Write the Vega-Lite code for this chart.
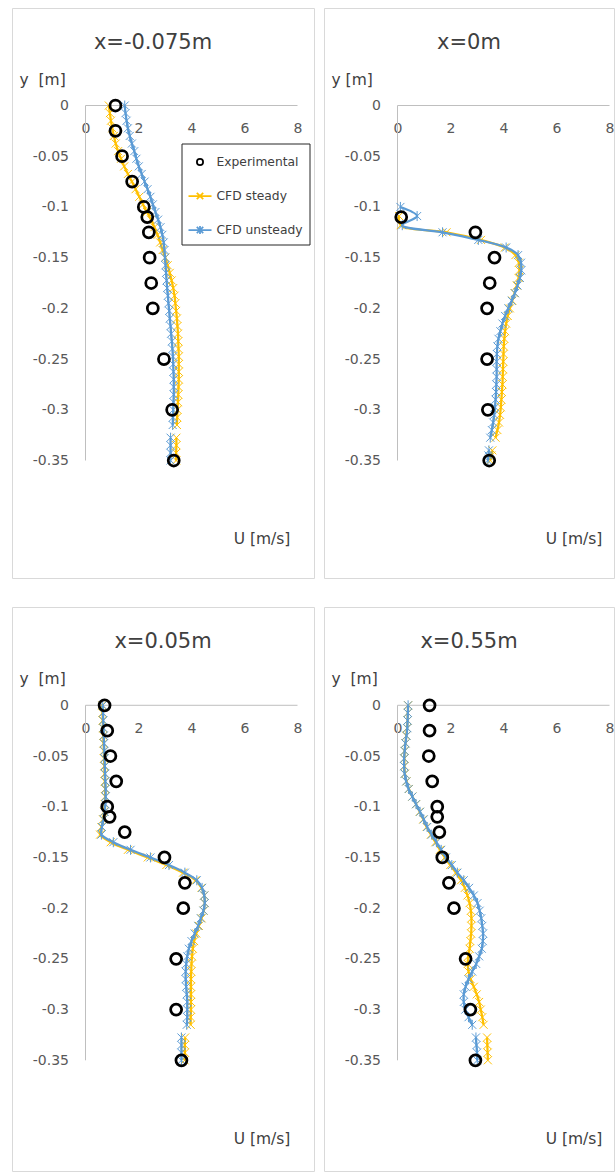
{
"$schema": "https://vega.github.io/schema/vega-lite/v6.json",
"padding": {"left": 11, "top": 7, "right": 0, "bottom": 0},
"bounds": "flush",
"columns": 2,
"spacing": {"row": 29, "column": 10},
"datasets": {
"ax": [{"u":0,"u2":8,"y":0,"y2":0},{"u":0,"u2":0,"y":0,"y2":-0.35}],
"exp": [
{"p":1,"s":"E","y":0,"u":1.13},{"p":1,"s":"E","y":-0.025,"u":1.13},{"p":1,"s":"E","y":-0.05,"u":1.38},{"p":1,"s":"E","y":-0.075,"u":1.76},{"p":1,"s":"E","y":-0.1,"u":2.2},{"p":1,"s":"E","y":-0.11,"u":2.33},{"p":1,"s":"E","y":-0.125,"u":2.39},{"p":1,"s":"E","y":-0.15,"u":2.42},{"p":1,"s":"E","y":-0.175,"u":2.48},{"p":1,"s":"E","y":-0.2,"u":2.54},{"p":1,"s":"E","y":-0.25,"u":2.96},{"p":1,"s":"E","y":-0.3,"u":3.27},{"p":1,"s":"E","y":-0.35,"u":3.33},
{"p":2,"s":"E","y":-0.11,"u":0.14},{"p":2,"s":"E","y":-0.125,"u":2.94},{"p":2,"s":"E","y":-0.15,"u":3.66},{"p":2,"s":"E","y":-0.175,"u":3.48},{"p":2,"s":"E","y":-0.2,"u":3.38},{"p":2,"s":"E","y":-0.25,"u":3.38},{"p":2,"s":"E","y":-0.3,"u":3.41},{"p":2,"s":"E","y":-0.35,"u":3.46},
{"p":3,"s":"E","y":0,"u":0.72},{"p":3,"s":"E","y":-0.025,"u":0.82},{"p":3,"s":"E","y":-0.05,"u":0.94},{"p":3,"s":"E","y":-0.075,"u":1.16},{"p":3,"s":"E","y":-0.1,"u":0.82},{"p":3,"s":"E","y":-0.11,"u":0.91},{"p":3,"s":"E","y":-0.125,"u":1.48},{"p":3,"s":"E","y":-0.15,"u":2.98},{"p":3,"s":"E","y":-0.175,"u":3.75},{"p":3,"s":"E","y":-0.2,"u":3.69},{"p":3,"s":"E","y":-0.25,"u":3.42},{"p":3,"s":"E","y":-0.3,"u":3.42},{"p":3,"s":"E","y":-0.35,"u":3.62},
{"p":4,"s":"E","y":0,"u":1.21},{"p":4,"s":"E","y":-0.025,"u":1.21},{"p":4,"s":"E","y":-0.05,"u":1.18},{"p":4,"s":"E","y":-0.075,"u":1.31},{"p":4,"s":"E","y":-0.1,"u":1.5},{"p":4,"s":"E","y":-0.11,"u":1.5},{"p":4,"s":"E","y":-0.125,"u":1.58},{"p":4,"s":"E","y":-0.15,"u":1.69},{"p":4,"s":"E","y":-0.175,"u":1.94},{"p":4,"s":"E","y":-0.2,"u":2.13},{"p":4,"s":"E","y":-0.25,"u":2.57},{"p":4,"s":"E","y":-0.3,"u":2.75},{"p":4,"s":"E","y":-0.35,"u":2.94}
],
"cfd": [
{"p":1,"s":"S","g":1,"y":0,"u":0.88},{"p":1,"s":"S","g":1,"y":-0.0075,"u":0.92},{"p":1,"s":"S","g":1,"y":-0.015,"u":0.96},{"p":1,"s":"S","g":1,"y":-0.0225,"u":1.01},{"p":1,"s":"S","g":1,"y":-0.03,"u":1.07},{"p":1,"s":"S","g":1,"y":-0.0375,"u":1.14},{"p":1,"s":"S","g":1,"y":-0.045,"u":1.23},{"p":1,"s":"S","g":1,"y":-0.0525,"u":1.34},{"p":1,"s":"S","g":1,"y":-0.06,"u":1.46},{"p":1,"s":"S","g":1,"y":-0.0675,"u":1.6},{"p":1,"s":"S","g":1,"y":-0.075,"u":1.75},{"p":1,"s":"S","g":1,"y":-0.0825,"u":1.89},{"p":1,"s":"S","g":1,"y":-0.09,"u":2.03},{"p":1,"s":"S","g":1,"y":-0.0975,"u":2.17},{"p":1,"s":"S","g":1,"y":-0.105,"u":2.32},{"p":1,"s":"S","g":1,"y":-0.1125,"u":2.47},{"p":1,"s":"S","g":1,"y":-0.12,"u":2.6},{"p":1,"s":"S","g":1,"y":-0.1275,"u":2.72},{"p":1,"s":"S","g":1,"y":-0.135,"u":2.82},{"p":1,"s":"S","g":1,"y":-0.1425,"u":2.91},{"p":1,"s":"S","g":1,"y":-0.15,"u":3.01},{"p":1,"s":"S","g":1,"y":-0.1575,"u":3.1},{"p":1,"s":"S","g":1,"y":-0.165,"u":3.18},{"p":1,"s":"S","g":1,"y":-0.1725,"u":3.25},{"p":1,"s":"S","g":1,"y":-0.18,"u":3.31},{"p":1,"s":"S","g":1,"y":-0.1875,"u":3.36},{"p":1,"s":"S","g":1,"y":-0.195,"u":3.39},{"p":1,"s":"S","g":1,"y":-0.2025,"u":3.42},{"p":1,"s":"S","g":1,"y":-0.21,"u":3.45},{"p":1,"s":"S","g":1,"y":-0.2175,"u":3.47},{"p":1,"s":"S","g":1,"y":-0.225,"u":3.49},{"p":1,"s":"S","g":1,"y":-0.2325,"u":3.5},{"p":1,"s":"S","g":1,"y":-0.24,"u":3.51},{"p":1,"s":"S","g":1,"y":-0.2475,"u":3.52},{"p":1,"s":"S","g":1,"y":-0.255,"u":3.52},{"p":1,"s":"S","g":1,"y":-0.2625,"u":3.52},{"p":1,"s":"S","g":1,"y":-0.27,"u":3.52},{"p":1,"s":"S","g":1,"y":-0.2775,"u":3.51},{"p":1,"s":"S","g":1,"y":-0.285,"u":3.5},{"p":1,"s":"S","g":1,"y":-0.2925,"u":3.49},{"p":1,"s":"S","g":1,"y":-0.3,"u":3.47},{"p":1,"s":"S","g":1,"y":-0.3075,"u":3.46},{"p":1,"s":"S","g":1,"y":-0.315,"u":3.45},
{"p":1,"s":"S","g":2,"y":-0.3275,"u":3.43},{"p":1,"s":"S","g":2,"y":-0.335,"u":3.43},{"p":1,"s":"S","g":2,"y":-0.3425,"u":3.42},{"p":1,"s":"S","g":2,"y":-0.35,"u":3.42},
{"p":1,"s":"U","g":1,"y":0,"u":1.48},{"p":1,"s":"U","g":1,"y":-0.0075,"u":1.51},{"p":1,"s":"U","g":1,"y":-0.015,"u":1.55},{"p":1,"s":"U","g":1,"y":-0.0225,"u":1.6},{"p":1,"s":"U","g":1,"y":-0.03,"u":1.67},{"p":1,"s":"U","g":1,"y":-0.0375,"u":1.75},{"p":1,"s":"U","g":1,"y":-0.045,"u":1.84},{"p":1,"s":"U","g":1,"y":-0.0525,"u":1.92},{"p":1,"s":"U","g":1,"y":-0.06,"u":2.01},{"p":1,"s":"U","g":1,"y":-0.0675,"u":2.12},{"p":1,"s":"U","g":1,"y":-0.075,"u":2.23},{"p":1,"s":"U","g":1,"y":-0.0825,"u":2.34},{"p":1,"s":"U","g":1,"y":-0.09,"u":2.45},{"p":1,"s":"U","g":1,"y":-0.0975,"u":2.54},{"p":1,"s":"U","g":1,"y":-0.105,"u":2.64},{"p":1,"s":"U","g":1,"y":-0.1125,"u":2.74},{"p":1,"s":"U","g":1,"y":-0.12,"u":2.83},{"p":1,"s":"U","g":1,"y":-0.1275,"u":2.9},{"p":1,"s":"U","g":1,"y":-0.135,"u":2.95},{"p":1,"s":"U","g":1,"y":-0.1425,"u":2.98},{"p":1,"s":"U","g":1,"y":-0.15,"u":3.0},{"p":1,"s":"U","g":1,"y":-0.1575,"u":3.02},{"p":1,"s":"U","g":1,"y":-0.165,"u":3.04},{"p":1,"s":"U","g":1,"y":-0.1725,"u":3.06},{"p":1,"s":"U","g":1,"y":-0.18,"u":3.08},{"p":1,"s":"U","g":1,"y":-0.1875,"u":3.11},{"p":1,"s":"U","g":1,"y":-0.195,"u":3.13},{"p":1,"s":"U","g":1,"y":-0.2025,"u":3.16},{"p":1,"s":"U","g":1,"y":-0.21,"u":3.18},{"p":1,"s":"U","g":1,"y":-0.2175,"u":3.21},{"p":1,"s":"U","g":1,"y":-0.225,"u":3.23},{"p":1,"s":"U","g":1,"y":-0.2325,"u":3.26},{"p":1,"s":"U","g":1,"y":-0.24,"u":3.28},{"p":1,"s":"U","g":1,"y":-0.2475,"u":3.3},{"p":1,"s":"U","g":1,"y":-0.255,"u":3.31},{"p":1,"s":"U","g":1,"y":-0.2625,"u":3.32},{"p":1,"s":"U","g":1,"y":-0.27,"u":3.33},{"p":1,"s":"U","g":1,"y":-0.2775,"u":3.33},{"p":1,"s":"U","g":1,"y":-0.285,"u":3.33},{"p":1,"s":"U","g":1,"y":-0.2925,"u":3.32},{"p":1,"s":"U","g":1,"y":-0.3,"u":3.31},{"p":1,"s":"U","g":1,"y":-0.3075,"u":3.3},{"p":1,"s":"U","g":1,"y":-0.315,"u":3.29},
{"p":1,"s":"U","g":2,"y":-0.3275,"u":3.21},{"p":1,"s":"U","g":2,"y":-0.335,"u":3.21},{"p":1,"s":"U","g":2,"y":-0.3425,"u":3.21},{"p":1,"s":"U","g":2,"y":-0.35,"u":3.21},
{"p":2,"s":"S","g":1,"y":-0.109,"u":0.06},{"p":2,"s":"S","g":1,"y":-0.118,"u":0.12},{"p":2,"s":"S","g":1,"y":-0.125,"u":1.85},{"p":2,"s":"S","g":1,"y":-0.1325,"u":3.15},{"p":2,"s":"S","g":1,"y":-0.14,"u":4.05},{"p":2,"s":"S","g":1,"y":-0.1475,"u":4.45},{"p":2,"s":"S","g":1,"y":-0.155,"u":4.58},{"p":2,"s":"S","g":1,"y":-0.1625,"u":4.6},{"p":2,"s":"S","g":1,"y":-0.17,"u":4.57},{"p":2,"s":"S","g":1,"y":-0.1775,"u":4.5},{"p":2,"s":"S","g":1,"y":-0.185,"u":4.42},{"p":2,"s":"S","g":1,"y":-0.1925,"u":4.33},{"p":2,"s":"S","g":1,"y":-0.2,"u":4.24},{"p":2,"s":"S","g":1,"y":-0.2075,"u":4.16},{"p":2,"s":"S","g":1,"y":-0.215,"u":4.1},{"p":2,"s":"S","g":1,"y":-0.2225,"u":4.06},{"p":2,"s":"S","g":1,"y":-0.23,"u":4.03},{"p":2,"s":"S","g":1,"y":-0.2375,"u":4.01},{"p":2,"s":"S","g":1,"y":-0.245,"u":4.0},{"p":2,"s":"S","g":1,"y":-0.2525,"u":3.99},{"p":2,"s":"S","g":1,"y":-0.26,"u":3.98},{"p":2,"s":"S","g":1,"y":-0.2675,"u":3.97},{"p":2,"s":"S","g":1,"y":-0.275,"u":3.96},{"p":2,"s":"S","g":1,"y":-0.2825,"u":3.94},{"p":2,"s":"S","g":1,"y":-0.29,"u":3.92},{"p":2,"s":"S","g":1,"y":-0.2975,"u":3.9},{"p":2,"s":"S","g":1,"y":-0.305,"u":3.87},{"p":2,"s":"S","g":1,"y":-0.3125,"u":3.83},{"p":2,"s":"S","g":1,"y":-0.32,"u":3.77},{"p":2,"s":"S","g":1,"y":-0.3275,"u":3.7},
{"p":2,"s":"S","g":2,"y":-0.34,"u":3.58},{"p":2,"s":"S","g":2,"y":-0.345,"u":3.54},{"p":2,"s":"S","g":2,"y":-0.35,"u":3.5},
{"p":2,"s":"U","g":1,"y":-0.1,"u":0.11},{"p":2,"s":"U","g":1,"y":-0.109,"u":0.74},{"p":2,"s":"U","g":1,"y":-0.118,"u":0.18},{"p":2,"s":"U","g":1,"y":-0.125,"u":1.7},{"p":2,"s":"U","g":1,"y":-0.1325,"u":3.05},{"p":2,"s":"U","g":1,"y":-0.14,"u":4.1},{"p":2,"s":"U","g":1,"y":-0.1475,"u":4.55},{"p":2,"s":"U","g":1,"y":-0.155,"u":4.66},{"p":2,"s":"U","g":1,"y":-0.1625,"u":4.67},{"p":2,"s":"U","g":1,"y":-0.17,"u":4.62},{"p":2,"s":"U","g":1,"y":-0.1775,"u":4.53},{"p":2,"s":"U","g":1,"y":-0.185,"u":4.43},{"p":2,"s":"U","g":1,"y":-0.1925,"u":4.31},{"p":2,"s":"U","g":1,"y":-0.2,"u":4.18},{"p":2,"s":"U","g":1,"y":-0.2075,"u":4.06},{"p":2,"s":"U","g":1,"y":-0.215,"u":3.96},{"p":2,"s":"U","g":1,"y":-0.2225,"u":3.88},{"p":2,"s":"U","g":1,"y":-0.23,"u":3.81},{"p":2,"s":"U","g":1,"y":-0.2375,"u":3.77},{"p":2,"s":"U","g":1,"y":-0.245,"u":3.75},{"p":2,"s":"U","g":1,"y":-0.2525,"u":3.74},{"p":2,"s":"U","g":1,"y":-0.26,"u":3.74},{"p":2,"s":"U","g":1,"y":-0.2675,"u":3.74},{"p":2,"s":"U","g":1,"y":-0.275,"u":3.73},{"p":2,"s":"U","g":1,"y":-0.2825,"u":3.72},{"p":2,"s":"U","g":1,"y":-0.29,"u":3.7},{"p":2,"s":"U","g":1,"y":-0.2975,"u":3.68},{"p":2,"s":"U","g":1,"y":-0.305,"u":3.65},{"p":2,"s":"U","g":1,"y":-0.3125,"u":3.61},{"p":2,"s":"U","g":1,"y":-0.32,"u":3.56},{"p":2,"s":"U","g":1,"y":-0.3275,"u":3.5},
{"p":2,"s":"U","g":2,"y":-0.34,"u":3.45},{"p":2,"s":"U","g":2,"y":-0.345,"u":3.43},{"p":2,"s":"U","g":2,"y":-0.35,"u":3.41},
{"p":3,"s":"S","g":1,"y":0,"u":0.63},{"p":3,"s":"S","g":1,"y":-0.0075,"u":0.64},{"p":3,"s":"S","g":1,"y":-0.015,"u":0.65},{"p":3,"s":"S","g":1,"y":-0.0225,"u":0.66},{"p":3,"s":"S","g":1,"y":-0.03,"u":0.67},{"p":3,"s":"S","g":1,"y":-0.0375,"u":0.68},{"p":3,"s":"S","g":1,"y":-0.045,"u":0.69},{"p":3,"s":"S","g":1,"y":-0.0525,"u":0.7},{"p":3,"s":"S","g":1,"y":-0.06,"u":0.71},{"p":3,"s":"S","g":1,"y":-0.0675,"u":0.72},{"p":3,"s":"S","g":1,"y":-0.075,"u":0.73},{"p":3,"s":"S","g":1,"y":-0.0825,"u":0.74},{"p":3,"s":"S","g":1,"y":-0.09,"u":0.74},{"p":3,"s":"S","g":1,"y":-0.0975,"u":0.73},{"p":3,"s":"S","g":1,"y":-0.105,"u":0.7},{"p":3,"s":"S","g":1,"y":-0.1125,"u":0.66},{"p":3,"s":"S","g":1,"y":-0.12,"u":0.6},{"p":3,"s":"S","g":1,"y":-0.1275,"u":0.55},{"p":3,"s":"S","g":1,"y":-0.135,"u":0.95},{"p":3,"s":"S","g":1,"y":-0.1425,"u":1.6},{"p":3,"s":"S","g":1,"y":-0.15,"u":2.35},{"p":3,"s":"S","g":1,"y":-0.1575,"u":3.05},{"p":3,"s":"S","g":1,"y":-0.165,"u":3.68},{"p":3,"s":"S","g":1,"y":-0.1725,"u":4.15},{"p":3,"s":"S","g":1,"y":-0.18,"u":4.38},{"p":3,"s":"S","g":1,"y":-0.1875,"u":4.48},{"p":3,"s":"S","g":1,"y":-0.195,"u":4.5},{"p":3,"s":"S","g":1,"y":-0.2025,"u":4.46},{"p":3,"s":"S","g":1,"y":-0.21,"u":4.38},{"p":3,"s":"S","g":1,"y":-0.2175,"u":4.28},{"p":3,"s":"S","g":1,"y":-0.225,"u":4.18},{"p":3,"s":"S","g":1,"y":-0.2325,"u":4.1},{"p":3,"s":"S","g":1,"y":-0.24,"u":4.05},{"p":3,"s":"S","g":1,"y":-0.2475,"u":4.02},{"p":3,"s":"S","g":1,"y":-0.255,"u":4.0},{"p":3,"s":"S","g":1,"y":-0.2625,"u":3.99},{"p":3,"s":"S","g":1,"y":-0.27,"u":3.98},{"p":3,"s":"S","g":1,"y":-0.2775,"u":3.98},{"p":3,"s":"S","g":1,"y":-0.285,"u":3.98},{"p":3,"s":"S","g":1,"y":-0.2925,"u":3.98},{"p":3,"s":"S","g":1,"y":-0.3,"u":3.98},{"p":3,"s":"S","g":1,"y":-0.3075,"u":3.97},{"p":3,"s":"S","g":1,"y":-0.315,"u":3.97},
{"p":3,"s":"S","g":2,"y":-0.3275,"u":3.76},{"p":3,"s":"S","g":2,"y":-0.335,"u":3.75},{"p":3,"s":"S","g":2,"y":-0.3425,"u":3.75},{"p":3,"s":"S","g":2,"y":-0.35,"u":3.74},
{"p":3,"s":"U","g":1,"y":0,"u":0.65},{"p":3,"s":"U","g":1,"y":-0.0075,"u":0.66},{"p":3,"s":"U","g":1,"y":-0.015,"u":0.67},{"p":3,"s":"U","g":1,"y":-0.0225,"u":0.68},{"p":3,"s":"U","g":1,"y":-0.03,"u":0.69},{"p":3,"s":"U","g":1,"y":-0.0375,"u":0.7},{"p":3,"s":"U","g":1,"y":-0.045,"u":0.71},{"p":3,"s":"U","g":1,"y":-0.0525,"u":0.72},{"p":3,"s":"U","g":1,"y":-0.06,"u":0.73},{"p":3,"s":"U","g":1,"y":-0.0675,"u":0.74},{"p":3,"s":"U","g":1,"y":-0.075,"u":0.75},{"p":3,"s":"U","g":1,"y":-0.0825,"u":0.76},{"p":3,"s":"U","g":1,"y":-0.09,"u":0.76},{"p":3,"s":"U","g":1,"y":-0.0975,"u":0.75},{"p":3,"s":"U","g":1,"y":-0.105,"u":0.72},{"p":3,"s":"U","g":1,"y":-0.1125,"u":0.68},{"p":3,"s":"U","g":1,"y":-0.12,"u":0.62},{"p":3,"s":"U","g":1,"y":-0.1275,"u":0.6},{"p":3,"s":"U","g":1,"y":-0.135,"u":1.05},{"p":3,"s":"U","g":1,"y":-0.1425,"u":1.7},{"p":3,"s":"U","g":1,"y":-0.15,"u":2.45},{"p":3,"s":"U","g":1,"y":-0.1575,"u":3.15},{"p":3,"s":"U","g":1,"y":-0.165,"u":3.75},{"p":3,"s":"U","g":1,"y":-0.1725,"u":4.2},{"p":3,"s":"U","g":1,"y":-0.18,"u":4.4},{"p":3,"s":"U","g":1,"y":-0.1875,"u":4.48},{"p":3,"s":"U","g":1,"y":-0.195,"u":4.5},{"p":3,"s":"U","g":1,"y":-0.2025,"u":4.45},{"p":3,"s":"U","g":1,"y":-0.21,"u":4.35},{"p":3,"s":"U","g":1,"y":-0.2175,"u":4.25},{"p":3,"s":"U","g":1,"y":-0.225,"u":4.12},{"p":3,"s":"U","g":1,"y":-0.2325,"u":4.0},{"p":3,"s":"U","g":1,"y":-0.24,"u":3.9},{"p":3,"s":"U","g":1,"y":-0.2475,"u":3.84},{"p":3,"s":"U","g":1,"y":-0.255,"u":3.8},{"p":3,"s":"U","g":1,"y":-0.2625,"u":3.78},{"p":3,"s":"U","g":1,"y":-0.27,"u":3.78},{"p":3,"s":"U","g":1,"y":-0.2775,"u":3.8},{"p":3,"s":"U","g":1,"y":-0.285,"u":3.82},{"p":3,"s":"U","g":1,"y":-0.2925,"u":3.84},{"p":3,"s":"U","g":1,"y":-0.3,"u":3.84},{"p":3,"s":"U","g":1,"y":-0.3075,"u":3.84},{"p":3,"s":"U","g":1,"y":-0.315,"u":3.82},
{"p":3,"s":"U","g":2,"y":-0.3275,"u":3.62},{"p":3,"s":"U","g":2,"y":-0.335,"u":3.62},{"p":3,"s":"U","g":2,"y":-0.3425,"u":3.62},{"p":3,"s":"U","g":2,"y":-0.35,"u":3.62},
{"p":4,"s":"S","g":1,"y":0,"u":0.4},{"p":4,"s":"S","g":1,"y":-0.0075,"u":0.39},{"p":4,"s":"S","g":1,"y":-0.015,"u":0.38},{"p":4,"s":"S","g":1,"y":-0.0225,"u":0.36},{"p":4,"s":"S","g":1,"y":-0.03,"u":0.33},{"p":4,"s":"S","g":1,"y":-0.0375,"u":0.3},{"p":4,"s":"S","g":1,"y":-0.045,"u":0.27},{"p":4,"s":"S","g":1,"y":-0.0525,"u":0.26},{"p":4,"s":"S","g":1,"y":-0.06,"u":0.26},{"p":4,"s":"S","g":1,"y":-0.0675,"u":0.28},{"p":4,"s":"S","g":1,"y":-0.075,"u":0.34},{"p":4,"s":"S","g":1,"y":-0.0825,"u":0.43},{"p":4,"s":"S","g":1,"y":-0.09,"u":0.56},{"p":4,"s":"S","g":1,"y":-0.0975,"u":0.7},{"p":4,"s":"S","g":1,"y":-0.105,"u":0.84},{"p":4,"s":"S","g":1,"y":-0.1125,"u":0.97},{"p":4,"s":"S","g":1,"y":-0.12,"u":1.1},{"p":4,"s":"S","g":1,"y":-0.1275,"u":1.26},{"p":4,"s":"S","g":1,"y":-0.135,"u":1.43},{"p":4,"s":"S","g":1,"y":-0.1425,"u":1.6},{"p":4,"s":"S","g":1,"y":-0.15,"u":1.78},{"p":4,"s":"S","g":1,"y":-0.1575,"u":1.99},{"p":4,"s":"S","g":1,"y":-0.165,"u":2.2},{"p":4,"s":"S","g":1,"y":-0.1725,"u":2.4},{"p":4,"s":"S","g":1,"y":-0.18,"u":2.54},{"p":4,"s":"S","g":1,"y":-0.1875,"u":2.64},{"p":4,"s":"S","g":1,"y":-0.195,"u":2.72},{"p":4,"s":"S","g":1,"y":-0.2025,"u":2.77},{"p":4,"s":"S","g":1,"y":-0.21,"u":2.79},{"p":4,"s":"S","g":1,"y":-0.2175,"u":2.79},{"p":4,"s":"S","g":1,"y":-0.225,"u":2.78},{"p":4,"s":"S","g":1,"y":-0.2325,"u":2.75},{"p":4,"s":"S","g":1,"y":-0.24,"u":2.72},{"p":4,"s":"S","g":1,"y":-0.2475,"u":2.67},{"p":4,"s":"S","g":1,"y":-0.255,"u":2.65},{"p":4,"s":"S","g":1,"y":-0.2625,"u":2.68},{"p":4,"s":"S","g":1,"y":-0.27,"u":2.76},{"p":4,"s":"S","g":1,"y":-0.2775,"u":2.88},{"p":4,"s":"S","g":1,"y":-0.285,"u":2.99},{"p":4,"s":"S","g":1,"y":-0.2925,"u":3.08},{"p":4,"s":"S","g":1,"y":-0.3,"u":3.14},{"p":4,"s":"S","g":1,"y":-0.3075,"u":3.2},{"p":4,"s":"S","g":1,"y":-0.315,"u":3.25},
{"p":4,"s":"S","g":2,"y":-0.3275,"u":3.38},{"p":4,"s":"S","g":2,"y":-0.335,"u":3.39},{"p":4,"s":"S","g":2,"y":-0.3425,"u":3.4},{"p":4,"s":"S","g":2,"y":-0.35,"u":3.41},
{"p":4,"s":"U","g":1,"y":0,"u":0.4},{"p":4,"s":"U","g":1,"y":-0.0075,"u":0.39},{"p":4,"s":"U","g":1,"y":-0.015,"u":0.38},{"p":4,"s":"U","g":1,"y":-0.0225,"u":0.37},{"p":4,"s":"U","g":1,"y":-0.03,"u":0.34},{"p":4,"s":"U","g":1,"y":-0.0375,"u":0.3},{"p":4,"s":"U","g":1,"y":-0.045,"u":0.27},{"p":4,"s":"U","g":1,"y":-0.0525,"u":0.25},{"p":4,"s":"U","g":1,"y":-0.06,"u":0.25},{"p":4,"s":"U","g":1,"y":-0.0675,"u":0.27},{"p":4,"s":"U","g":1,"y":-0.075,"u":0.33},{"p":4,"s":"U","g":1,"y":-0.0825,"u":0.42},{"p":4,"s":"U","g":1,"y":-0.09,"u":0.56},{"p":4,"s":"U","g":1,"y":-0.0975,"u":0.7},{"p":4,"s":"U","g":1,"y":-0.105,"u":0.85},{"p":4,"s":"U","g":1,"y":-0.1125,"u":0.99},{"p":4,"s":"U","g":1,"y":-0.12,"u":1.12},{"p":4,"s":"U","g":1,"y":-0.1275,"u":1.29},{"p":4,"s":"U","g":1,"y":-0.135,"u":1.47},{"p":4,"s":"U","g":1,"y":-0.1425,"u":1.65},{"p":4,"s":"U","g":1,"y":-0.15,"u":1.83},{"p":4,"s":"U","g":1,"y":-0.1575,"u":2.05},{"p":4,"s":"U","g":1,"y":-0.165,"u":2.26},{"p":4,"s":"U","g":1,"y":-0.1725,"u":2.5},{"p":4,"s":"U","g":1,"y":-0.18,"u":2.7},{"p":4,"s":"U","g":1,"y":-0.1875,"u":2.88},{"p":4,"s":"U","g":1,"y":-0.195,"u":3.02},{"p":4,"s":"U","g":1,"y":-0.2025,"u":3.1},{"p":4,"s":"U","g":1,"y":-0.21,"u":3.16},{"p":4,"s":"U","g":1,"y":-0.2175,"u":3.2},{"p":4,"s":"U","g":1,"y":-0.225,"u":3.23},{"p":4,"s":"U","g":1,"y":-0.2325,"u":3.22},{"p":4,"s":"U","g":1,"y":-0.24,"u":3.18},{"p":4,"s":"U","g":1,"y":-0.2475,"u":3.08},{"p":4,"s":"U","g":1,"y":-0.255,"u":2.97},{"p":4,"s":"U","g":1,"y":-0.2625,"u":2.82},{"p":4,"s":"U","g":1,"y":-0.27,"u":2.68},{"p":4,"s":"U","g":1,"y":-0.2775,"u":2.57},{"p":4,"s":"U","g":1,"y":-0.285,"u":2.5},{"p":4,"s":"U","g":1,"y":-0.2925,"u":2.5},{"p":4,"s":"U","g":1,"y":-0.3,"u":2.56},{"p":4,"s":"U","g":1,"y":-0.3075,"u":2.68},{"p":4,"s":"U","g":1,"y":-0.315,"u":2.82},
{"p":4,"s":"U","g":2,"y":-0.3275,"u":2.96},{"p":4,"s":"U","g":2,"y":-0.335,"u":2.98},{"p":4,"s":"U","g":2,"y":-0.3425,"u":3.0},{"p":4,"s":"U","g":2,"y":-0.35,"u":3.01}
]
},
"concat": [
{
"width": 302, "height": 570,
"title": {"text": "x=-0.075m", "dx": -10},
"layer": [
{"data": {"name": "ax"}, "mark": {"type": "rule", "color": "#bfbfbf", "strokeWidth": 1},
 "encoding": {
  "x": {"field": "u", "type": "quantitative", "scale": {"domain": [-2.7736, 8.6226], "nice": false, "zero": false}, "axis": {"title": "U [m/s]", "values": [0,2,4,6,8], "offset": -472.5}},
  "x2": {"field": "u2"},
  "y": {"field": "y", "type": "quantitative", "scale": {"domain": [-0.46584, 0.09613], "nice": false, "zero": false}, "axis": {"title": "y\u00a0 [m]", "values": [0,-0.05,-0.1,-0.15,-0.2,-0.25,-0.3,-0.35], "labelExpr": "'' + datum.value", "offset": -73.5}},
  "y2": {"field": "y2"}}},
{"data": {"name": "cfd"}, "transform": [{"filter": "datum.p == 1 && datum.s == 'S'"}], "mark": {"type": "line", "color": "#FFC000", "strokeWidth": 2.25, "interpolate": "catmull-rom"},
 "encoding": {"x": {"field": "u", "type": "quantitative"}, "y": {"field": "y", "type": "quantitative"}, "detail": {"field": "g", "type": "nominal"}, "order": {"field": "y", "type": "quantitative", "sort": "descending"}}},
{"data": {"name": "cfd"}, "transform": [{"filter": "datum.p == 1 && datum.s == 'S'"}], "mark": {"type": "point", "shape": "M-1,-1L1,1M-1,1L1,-1", "filled": false, "color": "#FFC000", "size": 64, "strokeWidth": 1, "opacity": 1},
 "encoding": {"x": {"field": "u", "type": "quantitative"}, "y": {"field": "y", "type": "quantitative"}}},
{"data": {"name": "cfd"}, "transform": [{"filter": "datum.p == 1 && datum.s == 'U'"}], "mark": {"type": "line", "color": "#5B9BD5", "strokeWidth": 2.25, "interpolate": "catmull-rom"},
 "encoding": {"x": {"field": "u", "type": "quantitative"}, "y": {"field": "y", "type": "quantitative"}, "detail": {"field": "g", "type": "nominal"}, "order": {"field": "y", "type": "quantitative", "sort": "descending"}}},
{"data": {"name": "cfd"}, "transform": [{"filter": "datum.p == 1 && datum.s == 'U'"}], "mark": {"type": "point", "shape": "M-1,-1L1,1M-1,1L1,-1M0,-1.25L0,1.25", "filled": false, "color": "#5B9BD5", "size": 64, "strokeWidth": 1, "opacity": 1},
 "encoding": {"x": {"field": "u", "type": "quantitative"}, "y": {"field": "y", "type": "quantitative"}}},
{"data": {"name": "exp"}, "transform": [{"filter": "datum.p == 1"}], "mark": {"type": "point", "filled": false, "size": 1660, "strokeWidth": 2.75, "opacity": 1},
 "encoding": {"x": {"field": "u", "type": "quantitative"}, "y": {"field": "y", "type": "quantitative"},
  "color": {"field": "s", "type": "nominal", "scale": {"domain": ["E","S","U"], "range": ["#000000","#FFC000","#5B9BD5"]},
   "legend": {"title": null, "orient": "none", "legendX": 169.5, "legendY": 135.5, "padding": 6, "rowPadding": 14, "symbolSize": 529, "symbolStrokeWidth": 1.75, "labelOffset": 4, "labelFont": "DejaVu Sans", "labelFontSize": 12.3, "labelColor": "#404040", "strokeColor": "#262626", "fillColor": "#ffffff",
    "labelExpr": "datum.value == 'E' ? 'Experimental' : datum.value == 'S' ? 'CFD steady' : 'CFD unsteady'"}},
  "shape": {"field": "s", "type": "nominal", "scale": {"domain": ["E","S","U"], "range": ["M-0.27,0A0.27,0.27,0,1,1,0.27,0A0.27,0.27,0,1,1,-0.27,0Z", "M-1,0L1,0M-0.28,-0.28L0.28,0.28M-0.28,0.28L0.28,-0.28", "M-1,0L1,0M-0.28,-0.28L0.28,0.28M-0.28,0.28L0.28,-0.28M0,-0.35L0,0.35"]},
   "legend": {"title": null, "orient": "none", "legendX": 169.5, "legendY": 135.5, "padding": 6, "rowPadding": 14, "symbolSize": 529, "symbolStrokeWidth": 1.75, "labelOffset": 4, "labelFont": "DejaVu Sans", "labelFontSize": 12.3, "labelColor": "#404040", "strokeColor": "#262626", "fillColor": "#ffffff",
    "labelExpr": "datum.value == 'E' ? 'Experimental' : datum.value == 'S' ? 'CFD steady' : 'CFD unsteady'"}}}}
]
},
{
"width": 290, "height": 570,
"title": {"text": "x=0m"},
"layer": [
{"data": {"name": "ax"}, "mark": {"type": "rule", "color": "#bfbfbf", "strokeWidth": 1},
 "encoding": {
  "x": {"field": "u", "type": "quantitative", "scale": {"domain": [-2.7736, 8.1698], "nice": false, "zero": false}, "axis": {"title": "U [m/s]", "values": [0,2,4,6,8], "offset": -472.5}},
  "x2": {"field": "u2"},
  "y": {"field": "y", "type": "quantitative", "scale": {"domain": [-0.46584, 0.09613], "nice": false, "zero": false}, "axis": {"title": "y [m]", "values": [0,-0.05,-0.1,-0.15,-0.2,-0.25,-0.3,-0.35], "labelExpr": "'' + datum.value", "offset": -73.5}},
  "y2": {"field": "y2"}}},
{"data": {"name": "cfd"}, "transform": [{"filter": "datum.p == 2 && datum.s == 'S'"}], "mark": {"type": "line", "color": "#FFC000", "strokeWidth": 2.25, "interpolate": "catmull-rom"},
 "encoding": {"x": {"field": "u", "type": "quantitative"}, "y": {"field": "y", "type": "quantitative"}, "detail": {"field": "g", "type": "nominal"}, "order": {"field": "y", "type": "quantitative", "sort": "descending"}}},
{"data": {"name": "cfd"}, "transform": [{"filter": "datum.p == 2 && datum.s == 'S'"}], "mark": {"type": "point", "shape": "M-1,-1L1,1M-1,1L1,-1", "filled": false, "color": "#FFC000", "size": 64, "strokeWidth": 1, "opacity": 1},
 "encoding": {"x": {"field": "u", "type": "quantitative"}, "y": {"field": "y", "type": "quantitative"}}},
{"data": {"name": "cfd"}, "transform": [{"filter": "datum.p == 2 && datum.s == 'U'"}], "mark": {"type": "line", "color": "#5B9BD5", "strokeWidth": 2.25, "interpolate": "catmull-rom"},
 "encoding": {"x": {"field": "u", "type": "quantitative"}, "y": {"field": "y", "type": "quantitative"}, "detail": {"field": "g", "type": "nominal"}, "order": {"field": "y", "type": "quantitative", "sort": "descending"}}},
{"data": {"name": "cfd"}, "transform": [{"filter": "datum.p == 2 && datum.s == 'U'"}], "mark": {"type": "point", "shape": "M-1,-1L1,1M-1,1L1,-1M0,-1.25L0,1.25", "filled": false, "color": "#5B9BD5", "size": 64, "strokeWidth": 1, "opacity": 1},
 "encoding": {"x": {"field": "u", "type": "quantitative"}, "y": {"field": "y", "type": "quantitative"}}},
{"data": {"name": "exp"}, "transform": [{"filter": "datum.p == 2"}], "mark": {"type": "point", "shape": "circle", "filled": false, "color": "#000000", "size": 121, "strokeWidth": 2.75, "opacity": 1},
 "encoding": {"x": {"field": "u", "type": "quantitative"}, "y": {"field": "y", "type": "quantitative"}}}
]
},
{
"width": 302, "height": 564,
"title": {"text": "x=0.05m"},
"layer": [
{"data": {"name": "ax"}, "mark": {"type": "rule", "color": "#bfbfbf", "strokeWidth": 1},
 "encoding": {
  "x": {"field": "u", "type": "quantitative", "scale": {"domain": [-2.7736, 8.6226], "nice": false, "zero": false}, "axis": {"title": "U [m/s]", "values": [0,2,4,6,8], "offset": -465.7}},
  "x2": {"field": "u2"},
  "y": {"field": "y", "type": "quantitative", "scale": {"domain": [-0.45914, 0.09691], "nice": false, "zero": false}, "axis": {"title": "y\u00a0 [m]", "values": [0,-0.05,-0.1,-0.15,-0.2,-0.25,-0.3,-0.35], "labelExpr": "'' + datum.value", "offset": -73.5}},
  "y2": {"field": "y2"}}},
{"data": {"name": "cfd"}, "transform": [{"filter": "datum.p == 3 && datum.s == 'S'"}], "mark": {"type": "line", "color": "#FFC000", "strokeWidth": 2.25, "interpolate": "catmull-rom"},
 "encoding": {"x": {"field": "u", "type": "quantitative"}, "y": {"field": "y", "type": "quantitative"}, "detail": {"field": "g", "type": "nominal"}, "order": {"field": "y", "type": "quantitative", "sort": "descending"}}},
{"data": {"name": "cfd"}, "transform": [{"filter": "datum.p == 3 && datum.s == 'S'"}], "mark": {"type": "point", "shape": "M-1,-1L1,1M-1,1L1,-1", "filled": false, "color": "#FFC000", "size": 64, "strokeWidth": 1, "opacity": 1},
 "encoding": {"x": {"field": "u", "type": "quantitative"}, "y": {"field": "y", "type": "quantitative"}}},
{"data": {"name": "cfd"}, "transform": [{"filter": "datum.p == 3 && datum.s == 'U'"}], "mark": {"type": "line", "color": "#5B9BD5", "strokeWidth": 2.25, "interpolate": "catmull-rom"},
 "encoding": {"x": {"field": "u", "type": "quantitative"}, "y": {"field": "y", "type": "quantitative"}, "detail": {"field": "g", "type": "nominal"}, "order": {"field": "y", "type": "quantitative", "sort": "descending"}}},
{"data": {"name": "cfd"}, "transform": [{"filter": "datum.p == 3 && datum.s == 'U'"}], "mark": {"type": "point", "shape": "M-1,-1L1,1M-1,1L1,-1M0,-1.25L0,1.25", "filled": false, "color": "#5B9BD5", "size": 64, "strokeWidth": 1, "opacity": 1},
 "encoding": {"x": {"field": "u", "type": "quantitative"}, "y": {"field": "y", "type": "quantitative"}}},
{"data": {"name": "exp"}, "transform": [{"filter": "datum.p == 3"}], "mark": {"type": "point", "shape": "circle", "filled": false, "color": "#000000", "size": 121, "strokeWidth": 2.75, "opacity": 1},
 "encoding": {"x": {"field": "u", "type": "quantitative"}, "y": {"field": "y", "type": "quantitative"}}}
]
},
{
"width": 290, "height": 564,
"title": {"text": "x=0.55m"},
"layer": [
{"data": {"name": "ax"}, "mark": {"type": "rule", "color": "#bfbfbf", "strokeWidth": 1},
 "encoding": {
  "x": {"field": "u", "type": "quantitative", "scale": {"domain": [-2.7736, 8.1698], "nice": false, "zero": false}, "axis": {"title": "U [m/s]", "values": [0,2,4,6,8], "offset": -465.7}},
  "x2": {"field": "u2"},
  "y": {"field": "y", "type": "quantitative", "scale": {"domain": [-0.45914, 0.09691], "nice": false, "zero": false}, "axis": {"title": "y\u00a0 [m]", "values": [0,-0.05,-0.1,-0.15,-0.2,-0.25,-0.3,-0.35], "labelExpr": "'' + datum.value", "offset": -73.5}},
  "y2": {"field": "y2"}}},
{"data": {"name": "cfd"}, "transform": [{"filter": "datum.p == 4 && datum.s == 'S'"}], "mark": {"type": "line", "color": "#FFC000", "strokeWidth": 2.25, "interpolate": "catmull-rom"},
 "encoding": {"x": {"field": "u", "type": "quantitative"}, "y": {"field": "y", "type": "quantitative"}, "detail": {"field": "g", "type": "nominal"}, "order": {"field": "y", "type": "quantitative", "sort": "descending"}}},
{"data": {"name": "cfd"}, "transform": [{"filter": "datum.p == 4 && datum.s == 'S'"}], "mark": {"type": "point", "shape": "M-1,-1L1,1M-1,1L1,-1", "filled": false, "color": "#FFC000", "size": 64, "strokeWidth": 1, "opacity": 1},
 "encoding": {"x": {"field": "u", "type": "quantitative"}, "y": {"field": "y", "type": "quantitative"}}},
{"data": {"name": "cfd"}, "transform": [{"filter": "datum.p == 4 && datum.s == 'U'"}], "mark": {"type": "line", "color": "#5B9BD5", "strokeWidth": 2.25, "interpolate": "catmull-rom"},
 "encoding": {"x": {"field": "u", "type": "quantitative"}, "y": {"field": "y", "type": "quantitative"}, "detail": {"field": "g", "type": "nominal"}, "order": {"field": "y", "type": "quantitative", "sort": "descending"}}},
{"data": {"name": "cfd"}, "transform": [{"filter": "datum.p == 4 && datum.s == 'U'"}], "mark": {"type": "point", "shape": "M-1,-1L1,1M-1,1L1,-1M0,-1.25L0,1.25", "filled": false, "color": "#5B9BD5", "size": 64, "strokeWidth": 1, "opacity": 1},
 "encoding": {"x": {"field": "u", "type": "quantitative"}, "y": {"field": "y", "type": "quantitative"}}},
{"data": {"name": "exp"}, "transform": [{"filter": "datum.p == 4"}], "mark": {"type": "point", "shape": "circle", "filled": false, "color": "#000000", "size": 121, "strokeWidth": 2.75, "opacity": 1},
 "encoding": {"x": {"field": "u", "type": "quantitative"}, "y": {"field": "y", "type": "quantitative"}}}
]
}
],
"config": {
 "font": "DejaVu Sans",
 "view": {"stroke": "#d9d9d9", "strokeWidth": 1},
 "axis": {"domain": false, "ticks": false, "tickSize": 0, "grid": false, "labelFont": "DejaVu Sans", "labelFontSize": 14, "labelColor": "#595959", "titleFont": "DejaVu Sans", "titleFontSize": 15.5, "titleFontWeight": "normal", "titleColor": "#404040", "labelOverlap": false, "labelFlush": false, "labelBound": false},
 "axisX": {"labelPadding": 23, "labelBaseline": "middle", "titleX": 249.5, "titleY": 433, "titleAlign": "center", "titleBaseline": "middle", "titleAngle": 0},
 "axisY": {"labelPadding": 17, "labelAlign": "right", "labelBaseline": "middle", "titleAngle": 0, "titleX": -66.5, "titleY": 71, "titleAlign": "left", "titleBaseline": "middle"},
 "title": {"font": "DejaVu Sans", "fontSize": 21, "fontWeight": "normal", "color": "#404040", "offset": -45, "baseline": "middle", "anchor": "middle"}
}
}
